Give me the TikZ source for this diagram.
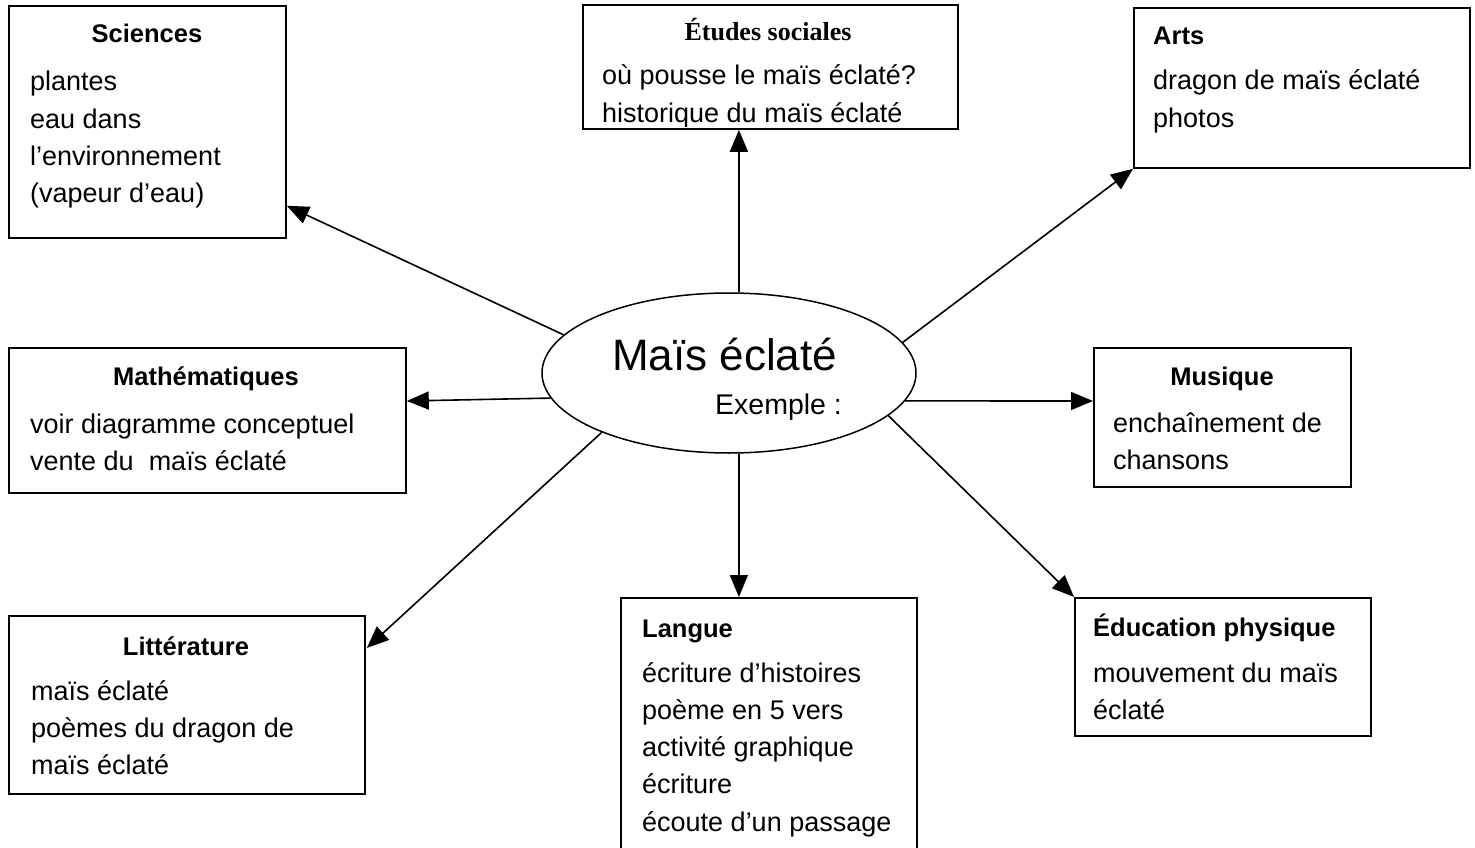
\documentclass[tikz,border=0pt]{standalone}
\usepackage{fontspec}
\setmainfont{Liberation Sans}
\newfontfamily\serifb{Liberation Serif}
\usetikzlibrary{arrows.meta,calc,shapes.geometric}
\begin{document}
\begin{tikzpicture}[x=1pt,y=-1pt,
  box/.style={draw, line width=1.8pt, inner sep=0pt, anchor=north west},
  arr/.style={line width=1.6pt, -{Triangle[length=22pt,width=18pt]}},
  head/.style={inner sep=0pt, anchor=base, font=\fontsize{25.5}{30}\selectfont\bfseries},
  headl/.style={head, anchor=base west},
  body/.style={inner sep=0pt, anchor=base west, font=\fontsize{27}{37.3}\selectfont},
]
\useasboundingbox[fill=white] (0,0) rectangle (1475,848);

% boxes
\node[box, minimum width=277pt, minimum height=232pt] (sci) at (8,5) {};
\node[box, minimum width=375pt, minimum height=124pt] (etu) at (582,4) {};
\node[box, minimum width=336pt, minimum height=160pt] (arts) at (1133,7) {};
\node[box, minimum width=397pt, minimum height=145pt] (math) at (8,347) {};
\node[box, minimum width=257pt, minimum height=139pt] (mus) at (1093,347) {};
\node[box, minimum width=356pt, minimum height=178pt] (litt) at (8,615) {};
\node[box, minimum width=296pt, minimum height=270pt] (lang) at (620,597) {};
\node[box, minimum width=296pt, minimum height=138pt] (educ) at (1074,597) {};

% centre
\node[draw, ellipse, line width=1.5pt, minimum width=374pt, minimum height=160pt, inner sep=0pt] (el) at (729,373) {};
\node[inner sep=0pt, anchor=base, font=\fontsize{44}{50}\selectfont] (title) at (724.5,370) {Maïs éclaté};
\node[inner sep=0pt, anchor=base west, font=\fontsize{28.5}{32}\selectfont] (ex) at (715,414) {Exemple :};

% Sciences
\node[head] (scih) at (147,43) {Sciences};
\node[body] (scib) at (30,91) {\parbox[t]{300pt}{plantes\\eau dans\\l’environnement\\(vapeur d’eau)}};

% Etudes sociales
\node[head, font=\fontsize{26}{30}\serifb\bfseries] (etuh) at (768,41) {Études sociales};
\begin{scope}
  \clip (etu.north west) rectangle ($(etu.south east)+(0,-3)$);
  \node[body] (etub) at (602,85) {\parbox[t]{400pt}{où pousse le maïs éclaté?\\historique du maïs éclaté}};
\end{scope}

% Arts
\node[headl] (artsh) at (1153,45) {Arts};
\node[body] (artsb) at (1153,90) {\parbox[t]{400pt}{dragon de maïs éclaté\\photos}};

% Mathematiques
\node[head] (mathh) at (206,385) {Mathématiques};
\node[body] (mathb) at (30,433) {\parbox[t]{400pt}{voir diagramme conceptuel\\vente du \ maïs éclaté}};

% Musique
\node[head] (mush) at (1222,385) {Musique};
\node[body] (musb) at (1113,432) {\parbox[t]{400pt}{enchaînement de\\chansons}};

% Litterature
\node[head] (litth) at (186,655) {Littérature};
\node[body] (littb) at (31,700) {\parbox[t]{400pt}{maïs éclaté\\poèmes du dragon de\\maïs éclaté}};

% Langue
\node[headl] (langh) at (642,637) {Langue};
\node[body] (langb) at (642,682) {\parbox[t]{400pt}{écriture d’histoires\\poème en 5 vers\\activité graphique\\écriture\\écoute d’un passage}};

% Education physique
\node[headl] (educh) at (1093,636) {Éducation physique};
\node[body] (educb) at (1093,682) {\parbox[t]{400pt}{mouvement du maïs\\éclaté}};

% connectors
\draw[arr] (el.167.6) -- ($(sci.south east)+(0,-33)$);
\draw[arr] (el.83) -- (el.83 |- etu.south);
\draw[arr] (el.10.4) -- (arts.south west);
\draw[arr] (el.188.3) -- ($(math.north east)+(0,54)$);
\draw[arr] (el.351.3) -- ($(mus.north west)+(0,54)$);
\draw[arr] (el.205.5) -- ($(litt.north east)+(1,33)$);
\draw[arr] (el.277) -- (el.277 |- lang.north);
\draw[arr] (el.345.4) -- (educ.north west);
\end{tikzpicture}
\end{document}
